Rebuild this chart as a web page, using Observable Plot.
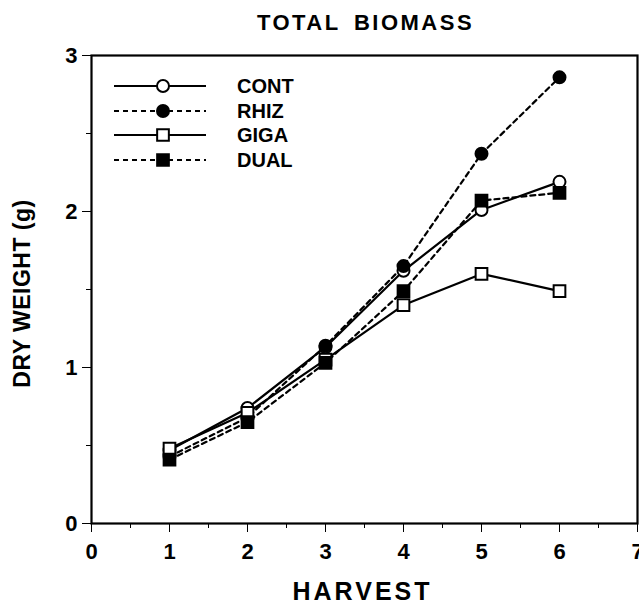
<!DOCTYPE html>
<html><head><meta charset="utf-8">
<script src="https://cdn.jsdelivr.net/npm/d3@7"></script>
<script src="https://cdn.jsdelivr.net/npm/@observablehq/plot@0.6"></script>
<style>body{margin:0;background:#fff}#wrap{position:relative;width:639px;height:606px}#legend{position:absolute;left:0;top:0}</style>
</head><body><div id="wrap"></div>
<script>
const harvests = [1, 2, 3, 4, 5, 6];
const seriesNames = ["CONT", "RHIZ", "GIGA", "DUAL"];
const cont = [0.47, 0.74, 1.13, 1.62, 2.01, 2.19];
const rhiz = [0.43, 0.68, 1.14, 1.65, 2.37, 2.86];
const giga = [0.48, 0.71, 1.05, 1.40, 1.60, 1.49];
const dual = [0.41, 0.65, 1.03, 1.49, 2.07, 2.12];
const xTicks = [0, 1, 2, 3, 4, 5, 6, 7];
const xMinor = [0.5, 1.5, 2.5, 3.5, 4.5, 5.5, 6.5];
const yTicks = [0, 1, 2, 3];
const yMinor = [0.5, 1.5, 2.5];
const titleText = "TOTAL BIOMASS";
const xLabel = "HARVEST";
const yLabel = "DRY WEIGHT (g)";

const seriesValues = {CONT: cont, RHIZ: rhiz, GIGA: giga, DUAL: dual};
const seriesStyle = {
  CONT: {symbol: "circle", fill: "white", dash: null},
  RHIZ: {symbol: "circle", fill: "black", dash: "5,4"},
  GIGA: {symbol: "square", fill: "white", dash: null},
  DUAL: {symbol: "square", fill: "black", dash: "5,4"}
};
const rows = seriesNames.flatMap(s => harvests.map((h, i) => ({series: s, harvest: h, value: seriesValues[s][i]})));

const FONT = "'Liberation Sans', Arial, Helvetica, sans-serif";
const marks = [];
for (const s of seriesNames) {
  const data = rows.filter(d => d.series === s);
  marks.push(Plot.line(data, {x: "harvest", y: "value", stroke: "black", strokeWidth: 2.2, strokeDasharray: seriesStyle[s].dash}));
}
for (const s of seriesNames) {
  const data = rows.filter(d => d.series === s);
  const st = seriesStyle[s];
  marks.push(Plot.dot(data, {x: "harvest", y: "value", symbol: st.symbol, r: st.symbol === "square" ? 6.6 : 6, fill: st.fill, stroke: "black", strokeWidth: 2}));
}

const chart = Plot.plot({
  width: 639, height: 606,
  marginLeft: 91, marginRight: 2, marginTop: 55, marginBottom: 83,
  style: {fontFamily: FONT, fontWeight: "bold", color: "black", background: "white"},
  x: {domain: [0, 7]},
  y: {domain: [0, 3]},
  marks: [
    Plot.frame({stroke: "black", strokeWidth: 2.2}),
    Plot.axisX({ticks: xTicks, tickSize: 9, tickPadding: 11, tickWidth: 2, fontSize: 22, fontWeight: "bold", label: null, tickFormat: d3.format("d")}),
    Plot.axisX({ticks: xMinor, tickSize: 5, tickWidth: 2, tickFormat: () => "", label: null}),
    Plot.axisY({ticks: yTicks, tickSize: 9, tickPadding: 5, tickWidth: 2, fontSize: 22, fontWeight: "bold", label: null, tickFormat: d3.format("d")}),
    Plot.axisY({ticks: yMinor, tickSize: 5, tickWidth: 2, tickFormat: () => "", label: null}),
    Plot.text([titleText], {frameAnchor: "top", dy: -33, dx: 1, lineAnchor: "middle", fontSize: 22, fontWeight: "bold"}),
    Plot.text([xLabel], {frameAnchor: "bottom", dy: 68, dx: -2, lineAnchor: "middle", fontSize: 25, fontWeight: "bold"}),
    Plot.text([yLabel], {frameAnchor: "left", dx: -69, dy: 4, rotate: -90, textAnchor: "middle", lineAnchor: "middle", fontSize: 23, fontWeight: "bold"}),
    ...marks
  ]
});
// letter/word spacing for the label texts
const spacing = {[titleText]: [2.5, 5], [xLabel]: [3, 0], [yLabel]: [0.5, 0]};
d3.select(chart).selectAll("text").each(function () {
  const t = this.textContent;
  if (t in spacing && this.childElementCount === 0) {
    d3.select(this).style("letter-spacing", spacing[t][0] + "px").style("word-spacing", spacing[t][1] + "px");
  }
});
const wrap = document.getElementById("wrap");
wrap.appendChild(chart);

// legend overlay
const legendY = [86, 111, 135, 160];
const svg = d3.select(wrap).append("svg").attr("id", "legend").attr("width", 639).attr("height", 606);
seriesNames.forEach((s, i) => {
  const st = seriesStyle[s];
  const g = svg.append("g").attr("transform", `translate(0,${legendY[i]})`);
  g.append("line").attr("x1", 114).attr("x2", 206).attr("y1", 0).attr("y2", 0)
    .attr("stroke", "black").attr("stroke-width", 2.2).attr("stroke-dasharray", st.dash);
  const sym = d3.symbol().type(st.symbol === "square" ? d3.symbolSquare : d3.symbolCircle)
    .size(st.symbol === "square" ? Math.PI * 6.6 * 6.6 : Math.PI * 36);
  g.append("path").attr("d", sym()).attr("transform", "translate(163,0)")
    .attr("fill", st.fill).attr("stroke", "black").attr("stroke-width", 2);
  g.append("text").attr("x", 237).attr("y", 0).attr("dy", "0.35em")
    .attr("font-family", FONT).attr("font-weight", "bold").attr("font-size", 20).text(s);
});
</script></body></html>
